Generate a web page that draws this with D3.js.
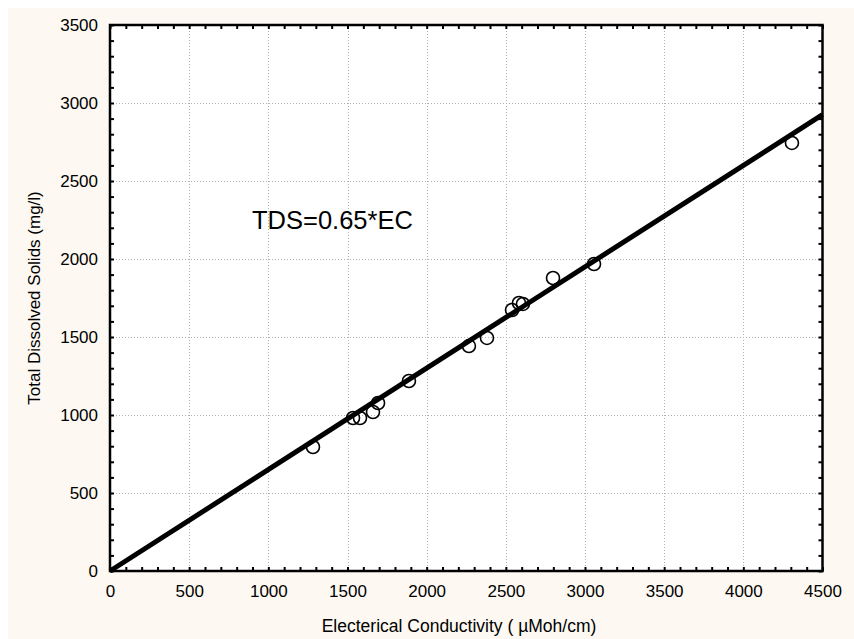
<!DOCTYPE html>
<html>
<head>
<meta charset="utf-8">
<script src="https://cdn.jsdelivr.net/npm/d3@7"></script>
<style>
  body { margin: 0; background: #fff; }
  text { font-family: "Liberation Sans", Arial, sans-serif; fill: #000; }
</style>
</head>
<body>
<svg id="chart" width="854" height="639"></svg>
<script>
// measured EC (uMoh/cm) and TDS (mg/l)
var ec  = [1282, 1535, 1579, 1661, 1693, 1888, 2267, 2381, 2539, 2583, 2608, 2798, 3057, 4307]
var tds = [795, 981, 981, 1019, 1077, 1218, 1442, 1494, 1673, 1718, 1712, 1878, 1968, 2744]
var xTicks = [0, 500, 1000, 1500, 2000, 2500, 3000, 3500, 4000, 4500]
var yTicks = [0, 500, 1000, 1500, 2000, 2500, 3000, 3500]
var slope = 0.65

var svg = d3.select('#chart')
var m = { left: 110, top: 25, right: 822.5, bottom: 571 }

svg.append('rect')
   .attr('x', 8).attr('y', 8)
   .attr('width', 846).attr('height', 631)
   .attr('fill', '#fdf9f2')

svg.append('rect')
   .attr('x', m.left).attr('y', m.top)
   .attr('width', m.right - m.left).attr('height', m.bottom - m.top)
   .attr('fill', '#fff')

var x = d3.scaleLinear().domain([0, 4500]).range([m.left, m.right])
var y = d3.scaleLinear().domain([0, 3500]).range([m.bottom, m.top])

// dotted grid
var grid = svg.append('g')
              .attr('stroke', '#b0b0b0')
              .attr('stroke-width', 1)
              .attr('stroke-dasharray', '1,2')

grid.selectAll('.gx').data(xTicks.slice(1, -1)).enter().append('line')
    .attr('x1', function (d) { return Math.round(x(d)) + 0.5 })
    .attr('x2', function (d) { return Math.round(x(d)) + 0.5 })
    .attr('y1', m.top).attr('y2', m.bottom)

grid.selectAll('.gy').data(yTicks.slice(1, -1)).enter().append('line')
    .attr('y1', function (d) { return Math.round(y(d)) + 0.5 })
    .attr('y2', function (d) { return Math.round(y(d)) + 0.5 })
    .attr('x1', m.left).attr('x2', m.right)

// inward ticks on all four sides
function inward(axis, scale, count, size) {
  return axis(scale).ticks(count).tickSize(-size).tickFormat('')
}
var ticks = svg.append('g').attr('class', 'ticks')
ticks.append('g').attr('transform', 'translate(0,' + m.bottom + ')')
     .call(inward(d3.axisBottom, x, 45, 4))
ticks.append('g').attr('transform', 'translate(0,' + m.top + ')')
     .call(inward(d3.axisTop, x, 45, 4))
ticks.append('g').attr('transform', 'translate(' + m.left + ',0)')
     .call(inward(d3.axisLeft, y, 35, 4))
ticks.append('g').attr('transform', 'translate(' + m.right + ',0)')
     .call(inward(d3.axisRight, y, 35, 4))
ticks.selectAll('.domain').remove()
ticks.selectAll('line').attr('stroke', '#000').attr('stroke-width', 2)

// tick labels
var fmt = d3.format('d')
svg.append('g').attr('transform', 'translate(0,' + m.bottom + ')')
   .call(d3.axisBottom(x).tickValues(xTicks).tickFormat(fmt).tickSize(0).tickPadding(14))
   .call(function (g) { g.select('.domain').remove() })
   .selectAll('text')
   .style('font-size', '17px')
   .style('font-family', '"Liberation Sans", Arial, sans-serif')

svg.append('g').attr('transform', 'translate(' + m.left + ',0)')
   .call(d3.axisLeft(y).tickValues(yTicks).tickFormat(fmt).tickSize(0).tickPadding(12))
   .call(function (g) { g.select('.domain').remove() })
   .selectAll('text')
   .style('font-size', '17px')
   .style('font-family', '"Liberation Sans", Arial, sans-serif')

// frame
svg.append('rect')
   .attr('x', m.left).attr('y', m.top)
   .attr('width', m.right - m.left).attr('height', m.bottom - m.top)
   .attr('fill', 'none')
   .attr('stroke', '#000')
   .attr('stroke-width', 2.5)

// fit line
var fit = d3.line()
            .x(function (d) { return x(d) })
            .y(function (d) { return y(d * slope) })

svg.append('path')
   .datum([0, 4500])
   .attr('d', fit)
   .attr('fill', 'none')
   .attr('stroke', '#000')
   .attr('stroke-width', 5)

// samples
svg.append('g').selectAll('circle')
   .data(ec).enter().append('circle')
   .attr('cx', function (d) { return x(d) })
   .attr('cy', function (d, i) { return y(tds[i]) })
   .attr('r', 6.5)
   .attr('fill', 'none')
   .attr('stroke', '#000')
   .attr('stroke-width', 1.6)

svg.append('text')
   .attr('x', 252).attr('y', 229)
   .style('font-size', '25.5px')
   .text('TDS=0.65*EC')

svg.append('text')
   .attr('x', 459).attr('y', 632)
   .attr('text-anchor', 'middle')
   .style('font-size', '17.5px')
   .text('Electerical Conductivity ( \u00b5Moh/cm)')

svg.append('text')
   .attr('transform', 'translate(40,298) rotate(-90)')
   .attr('text-anchor', 'middle')
   .style('font-size', '17px')
   .text('Total Dissolved Solids (mg/l)')
</script>
</body>
</html>
